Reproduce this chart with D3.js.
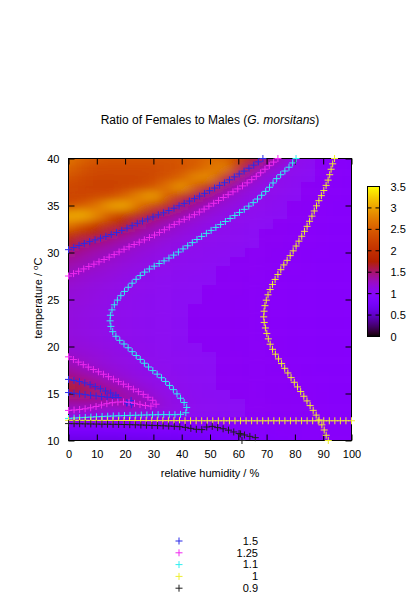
<!DOCTYPE html>
<html><head><meta charset="utf-8">
<script src="https://cdn.jsdelivr.net/npm/d3@7"></script>
<style>
body{margin:0;background:#fff}
text{font-family:"Liberation Sans",Arial,Helvetica,sans-serif;fill:#000}
</style>
</head><body>
<svg id="chart" width="420" height="599"></svg>
<script>
// ---------- DATA ----------
const humidity = [0,5,10,15,20,25,30,35,40,45,50,55,60,65,70,75,80,85,90,95,100];
const temperature = [10,11,12,13,14,15,16,17,18,19,20,21,22,23,24,25,26,27,28,29,30,31,32,33,34,35,36,37,38,39,40];
// ratio[i][j] : temperature[i], humidity[j]
const ratio = [
 [0.62,0.62,0.63,0.63,0.64,0.65,0.66,0.68,0.70,0.74,0.78,0.83,0.88,0.91,0.93,0.95,0.96,0.975,0.985,0.99,0.99], //10
 [0.82,0.82,0.82,0.83,0.83,0.83,0.84,0.84,0.85,0.86,0.88,0.90,0.92,0.94,0.95,0.96,0.97,0.975,0.98,0.985,0.985], //11
 [0.975,0.975,0.975,0.975,0.975,0.975,0.975,0.975,0.975,0.975,0.975,0.975,0.975,0.975,0.975,0.975,0.975,0.975,0.975,0.975,0.975], //12
 [1.22,1.20,1.19,1.18,1.18,1.17,1.15,1.13,1.11,1.06,1.05,1.045,1.035,1.028,1.02,1.014,1.008,1.002,0.99,0.978,0.968], //13
 [1.35,1.35,1.33,1.30,1.35,1.30,1.25,1.15,1.11,1.06,1.05,1.04,1.032,1.025,1.018,1.012,1.006,0.997,0.984,0.972,0.963], //14
 [1.55,1.55,1.50,1.42,1.33,1.26,1.18,1.12,1.08,1.055,1.045,1.035,1.028,1.022,1.016,1.01,1.003,0.993,0.98,0.97,0.962], //15
 [1.72,1.55,1.40,1.32,1.26,1.18,1.13,1.10,1.07,1.05,1.04,1.03,1.024,1.018,1.012,1.006,1.0,0.99,0.977,0.968,0.96], //16
 [1.42,1.35,1.29,1.22,1.17,1.13,1.105,1.08,1.06,1.045,1.035,1.028,1.022,1.016,1.01,1.004,0.995,0.984,0.974,0.967,0.96], //17
 [1.32,1.26,1.21,1.17,1.14,1.11,1.085,1.065,1.05,1.04,1.033,1.026,1.02,1.014,1.008,1.001,0.99,0.98,0.972,0.966,0.96], //18
 [1.245,1.21,1.18,1.15,1.125,1.095,1.075,1.06,1.05,1.04,1.032,1.025,1.018,1.012,1.006,0.997,0.987,0.978,0.971,0.965,0.96], //19
 [1.19,1.17,1.15,1.13,1.105,1.085,1.07,1.055,1.045,1.035,1.03,1.022,1.016,1.01,1.003,0.994,0.984,0.976,0.97,0.965,0.96], //20
 [1.17,1.15,1.13,1.11,1.09,1.075,1.06,1.05,1.04,1.03,1.025,1.02,1.014,1.008,1.001,0.992,0.982,0.975,0.97,0.965,0.96], //21
 [1.16,1.14,1.125,1.10,1.085,1.07,1.06,1.05,1.04,1.03,1.025,1.02,1.012,1.006,0.999,0.99,0.98,0.975,0.97,0.965,0.96], //22
 [1.16,1.14,1.125,1.10,1.085,1.07,1.06,1.05,1.04,1.03,1.025,1.02,1.012,1.006,0.998,0.99,0.98,0.975,0.97,0.965,0.96], //23
 [1.17,1.15,1.13,1.105,1.085,1.07,1.06,1.05,1.04,1.03,1.025,1.02,1.012,1.006,0.998,0.99,0.98,0.975,0.97,0.965,0.96], //24
 [1.18,1.16,1.14,1.115,1.09,1.075,1.06,1.05,1.04,1.035,1.03,1.02,1.015,1.008,1.0,0.99,0.98,0.975,0.97,0.965,0.96], //25
 [1.20,1.17,1.15,1.13,1.10,1.08,1.065,1.055,1.045,1.04,1.03,1.025,1.02,1.01,1.002,0.99,0.98,0.975,0.97,0.965,0.96], //26
 [1.24,1.20,1.17,1.15,1.12,1.09,1.07,1.06,1.05,1.04,1.035,1.03,1.02,1.015,1.005,0.995,0.985,0.975,0.97,0.965,0.96], //27
 [1.30,1.24,1.21,1.18,1.15,1.12,1.09,1.07,1.06,1.05,1.04,1.03,1.025,1.02,1.01,1.0,0.99,0.98,0.97,0.965,0.96], //28
 [1.36,1.31,1.26,1.22,1.18,1.15,1.12,1.09,1.07,1.06,1.05,1.04,1.03,1.02,1.015,1.005,0.99,0.98,0.97,0.965,0.96], //29
 [1.46,1.38,1.32,1.27,1.23,1.18,1.15,1.12,1.09,1.07,1.06,1.05,1.04,1.03,1.02,1.01,0.995,0.985,0.975,0.965,0.96], //30
 [1.75,1.52,1.43,1.36,1.29,1.24,1.19,1.15,1.12,1.09,1.07,1.06,1.05,1.04,1.03,1.02,1.0,0.99,0.98,0.97,0.96], //31
 [2.10,1.95,1.80,1.55,1.42,1.33,1.27,1.21,1.16,1.12,1.09,1.07,1.06,1.04,1.03,1.02,1.01,0.99,0.98,0.97,0.96], //32
 [2.75,2.45,2.15,2.00,1.75,1.48,1.36,1.28,1.21,1.16,1.12,1.09,1.07,1.05,1.04,1.03,1.01,1.0,0.98,0.97,0.96], //33
 [3.05,3.10,2.85,2.40,2.10,1.90,1.60,1.43,1.32,1.24,1.17,1.12,1.09,1.07,1.05,1.04,1.02,1.01,0.99,0.97,0.96], //34
 [2.35,2.50,2.70,3.00,3.05,2.65,2.25,1.90,1.50,1.35,1.25,1.18,1.13,1.09,1.07,1.05,1.03,1.01,0.99,0.97,0.96], //35
 [2.25,2.25,2.30,2.35,2.55,2.85,3.00,2.50,2.05,1.60,1.38,1.26,1.18,1.12,1.09,1.06,1.04,1.02,1.0,0.98,0.96], //36
 [2.30,2.25,2.20,2.20,2.25,2.30,2.45,2.70,2.95,2.45,1.80,1.42,1.27,1.17,1.11,1.08,1.05,1.03,1.01,0.98,0.97], //37
 [2.40,2.30,2.25,2.25,2.25,2.25,2.30,2.40,2.55,2.85,2.85,2.00,1.45,1.27,1.15,1.09,1.06,1.04,1.01,0.98,0.97], //38
 [2.55,2.40,2.30,2.30,2.30,2.30,2.30,2.35,2.40,2.50,2.70,2.80,2.00,1.45,1.25,1.14,1.08,1.05,1.02,0.99,0.97], //39
 [2.70,2.55,2.45,2.40,2.40,2.40,2.40,2.40,2.45,2.50,2.60,2.60,2.30,1.75,1.45,1.24,1.11,1.07,1.03,0.99,0.97]  //40
];

// contour levels and their traced lines [humidity, temperature]
const levels = [1.5, 1.25, 1.1, 1, 0.9];
const levelColors = ["#2a2ae8", "#f02af0", "#30eef0", "#eeee30", "#1e1e1e"];
const contour150 = [
 [[0,30.3],[5,30.9],[10,31.4],[15,31.9],[20,32.5],[25,33.2],[30,33.8],[35,34.4],[40,35.1],[45,35.8],[50,36.6],[55,37.4],[60,38.3],[65,39.2],[68.7,40]],
 [[0,16.5],[6,16.1],[12,15.4],[18,14.6],[14.5,14.6],[8,14.8],[0,15.1]],
 [[20.6,14.0],[21.7,14.3],[22.8,14.0],[21.7,13.75],[20.6,14.0]]
];
const contour125 = [
 [[0,27.5],[5,28.2],[10,28.9],[15,29.6],[20,30.4],[25,31.1],[30,31.8],[35,32.6],[40,33.4],[45,34.1],[50,35],[55,35.9],[60,36.8],[65,37.8],[70,39],[74,40]],
 [[0,18.9],[5,18.1],[12,17.1],[20,15.9],[27,14.8],[31,13.9],[29,13.65],[26,13.8],[20,14.1],[15,14.0],[6.5,13.4],[0,13.2]]
];
const contour110 = [
 [[80.4,40],[78,39.1],[74,38],[70,36.6],[64,35],[57,33.6],[47.5,31.8],[36,29.5],[26.4,27.8],[18.2,25.3],[15.8,24.2],[14.7,23.1],[15.3,21.8],[17,21],[20.6,20],[27.6,18],[34.6,16.2],[39.3,14.6],[41.7,13.6],[41.6,13.0],[40,12.8],[32,12.75],[15,12.6],[0,12.35]]
];
const contour100 = [
 [[94,40],[93.2,39.3],[91.5,37.5],[88,35.2],[84,32.6],[78,29.5],[75.7,28.5],[71.6,26.3],[69.6,24.6],[69,23],[69.9,21.6],[71.6,20],[75.7,18],[81.6,15.4],[86.9,13],[89.8,11.5],[91.5,10.2],[91.8,10]],
 [[0,12.15],[50,12.1],[100,12.1]]
];
const contour090 = [
 [[0,11.8],[10,11.75],[20,11.7],[30,11.6],[40,11.45],[45,11.2],[47,11.15],[49,11.45],[51,11.5],[53,11.35],[56,11.15],[59,10.85],[62,10.6],[66,10.3]],
 [[60.8,10.7],[61.3,10.0]]
];
const contourLines = [contour150, contour125, contour110, contour100, contour090];

const xTicks = [0,10,20,30,40,50,60,70,80,90,100];
const yTicks = [10,15,20,25,30,35,40];
const cbTicks = [0,0.5,1,1.5,2,2.5,3,3.5];

// ---------- DRAW ----------
const svg = d3.select("#chart");
const x = d3.scaleLinear().domain([0,100]).range([68.5,351.5]);
const y = d3.scaleLinear().domain([10,40]).range([440.5,158.5]);

function gnuplotPalette(t){
  t = Math.max(0, Math.min(1, t));
  const r = Math.sqrt(t), g = t*t*t, b = Math.max(0, Math.sin(2*Math.PI*t));
  return d3.rgb(r*255, g*255, b*255).formatHex();
}
const color = d3.scaleSequential(gnuplotPalette).domain([0,3.5]);

const defs = svg.append("defs");
defs.append("clipPath").attr("id","plotclip").append("rect")
  .attr("x", x(0)).attr("y", y(40)).attr("width", x(100)-x(0)).attr("height", y(10)-y(40));
defs.append("filter").attr("id","smooth").attr("x","-10%").attr("y","-10%").attr("width","120%").attr("height","120%")
  .append("feGaussianBlur").attr("stdDeviation","6.5 4.3");

function bounds(arr, scale, j, ext){
  const s = Math.sign(scale(arr[1])-scale(arr[0]));
  const a = j===0 ? scale(arr[0]) - ext*s : (scale(arr[j-1])+scale(arr[j]))/2;
  const b = j===arr.length-1 ? scale(arr[j]) + ext*s : (scale(arr[j])+scale(arr[j+1]))/2;
  return [Math.min(a,b), Math.max(a,b)];
}
const cells = [];
temperature.forEach((T,i)=>humidity.forEach((h,j)=>cells.push({i,j,v:ratio[i][j]})));
const heat = svg.append("g").attr("clip-path","url(#plotclip)")
  .append("g").attr("filter","url(#smooth)");
heat.selectAll("rect").data(cells).join("rect")
  .attr("x", d=>bounds(humidity,x,d.j,30)[0]-0.3)
  .attr("width", d=>{const b=bounds(humidity,x,d.j,30);return b[1]-b[0]+0.6;})
  .attr("y", d=>bounds(temperature,y,d.i,30)[0]-0.3)
  .attr("height", d=>{const b=bounds(temperature,y,d.i,30);return b[1]-b[0]+0.6;})
  .attr("fill", d=>color(d.v));

// axes (gnuplot style: inward ticks, mirrored)
const fs = "11px";
const axB = svg.append("g").attr("transform",`translate(0,${y(10)})`)
  .call(d3.axisBottom(x).tickValues(xTicks).tickSizeInner(-6).tickSizeOuter(0).tickPadding(10));
const axT = svg.append("g").attr("transform",`translate(0,${y(40)})`)
  .call(d3.axisTop(x).tickValues(xTicks).tickSizeInner(-6).tickSizeOuter(0).tickFormat(""));
const axL = svg.append("g").attr("transform",`translate(${x(0)},0)`)
  .call(d3.axisLeft(y).tickValues(yTicks).tickSizeInner(-6).tickSizeOuter(0).tickPadding(9));
const axR = svg.append("g").attr("transform",`translate(${x(100)},0)`)
  .call(d3.axisRight(y).tickValues(yTicks).tickSizeInner(-6).tickSizeOuter(0).tickFormat(""));
[axB,axT,axL,axR].forEach(a=>{
  a.select(".domain").remove();
  a.selectAll("line").attr("stroke","#000");
  a.selectAll("text").style("font-size",fs).style("font-family",'"Liberation Sans",Arial,sans-serif').attr("fill","#000");
});
svg.append("rect").attr("x",x(0)).attr("y",y(40)).attr("width",x(100)-x(0)).attr("height",y(10)-y(40))
  .attr("fill","none").attr("stroke","#000").attr("stroke-width",1);

// contour markers
const line = d3.line().x(d=>x(d[0])).y(d=>y(d[1])).curve(d3.curveCatmullRom.alpha(0.5));
const gC = svg.append("g");
contourLines.forEach((paths,li)=>{
  paths.forEach(pts=>{
    const p = gC.append("path").attr("d", line(pts)).attr("fill","none").attr("stroke","none");
    const node = p.node(), L = node.getTotalLength();
    const n = Math.max(1, Math.round(L/5.6));
    const pos = d3.range(n+1).map(k=>node.getPointAtLength(k*L/n));
    p.remove();
    gC.append("g").selectAll("path").data(pos).join("path")
      .attr("d", d=>`M${d.x-3.5},${d.y}h7M${d.x},${d.y-3.5}v7`)
      .attr("stroke", levelColors[li]).attr("stroke-width",1).attr("fill","none");
  });
});

// colour box
const cbX = 367, cbW = 12;
const cb = d3.scaleLinear().domain([0,3.5]).range([336.5,186.5]);
const grad = defs.append("linearGradient").attr("id","cbgrad").attr("x1",0).attr("x2",0).attr("y1",1).attr("y2",0);
grad.selectAll("stop").data(d3.range(0,1.0001,1/60)).join("stop")
  .attr("offset", d=>d).attr("stop-color", d=>gnuplotPalette(d));
svg.append("rect").attr("x",cbX+0.5).attr("y",cb(3.5)).attr("width",cbW).attr("height",cb(0)-cb(3.5))
  .attr("fill","url(#cbgrad)").attr("stroke","#000").attr("stroke-width",1);
const cbAx = svg.append("g").attr("transform",`translate(${cbX+0.5+cbW},0)`)
  .call(d3.axisRight(cb).tickValues(cbTicks).tickSize(0).tickPadding(11).tickFormat(d=>String(d)));
cbAx.select(".domain").remove();
cbAx.selectAll("text").style("font-size",fs).style("font-family",'"Liberation Sans",Arial,sans-serif').attr("fill","#000");
svg.append("g").selectAll("path").data(cbTicks.slice(1,-1)).join("path")
  .attr("d", d=>`M${cbX+0.5},${cb(d)}h4M${cbX+0.5+cbW},${cb(d)}h-4`)
  .attr("stroke","#000").attr("stroke-width",1);

// titles
svg.append("text").attr("x",210).attr("y",124).attr("text-anchor","middle").style("font-size","12px")
  .html('Ratio of Females to Males (<tspan font-style="italic">G. morsitans</tspan>)');
svg.append("text").attr("x",210).attr("y",477).attr("text-anchor","middle").style("font-size","11px")
  .text("relative humidity / %");
svg.append("text").attr("transform","translate(42,298) rotate(-90)").attr("text-anchor","middle").style("font-size","11px")
  .html('temperature / <tspan baseline-shift="super" font-size="8px">o</tspan>C');

// legend
const lg = svg.append("g");
levels.forEach((lv,i)=>{
  const yy = 541 + i*11.8;
  lg.append("path").attr("d",`M${179-3.5},${yy}h7M179,${yy-3.5}v7`).attr("stroke",levelColors[i]).attr("stroke-width",1);
  lg.append("text").attr("x",258).attr("y",yy).attr("dy","0.35em").attr("text-anchor","end").style("font-size","11px").text(String(lv));
});
</script>
</body></html>
